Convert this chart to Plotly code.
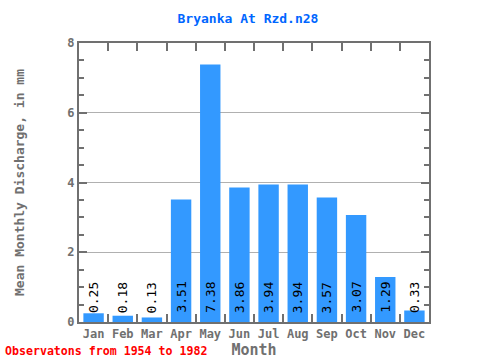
import plotly.graph_objects as go

months = ["Jan", "Feb", "Mar", "Apr", "May", "Jun", "Jul", "Aug", "Sep", "Oct", "Nov", "Dec"]
discharge = [0.25, 0.18, 0.13, 3.51, 7.38, 3.86, 3.94, 3.94, 3.57, 3.07, 1.29, 0.33]
labels = ["%.2f" % v for v in discharge]

MONO = "DejaVu Sans Mono"
GRAY = "#707070"

fig = go.Figure()
fig.add_trace(go.Bar(x=months, y=discharge, marker=dict(color="#3399ff", line=dict(width=0)),
                     hoverinfo="skip"))

for m, t in zip(months, labels):
    fig.add_annotation(x=m, y=0, text=t, textangle=-90, showarrow=False,
                       yanchor="bottom", xanchor="center", yshift=7,
                       font=dict(family=MONO, size=13, color="black"))

fig.add_annotation(x=0, y=0, xref="paper", yref="paper", xanchor="left", yanchor="bottom",
                   text="<b>Observatons from 1954 to 1982</b>", showarrow=False,
                   xshift=-76, yshift=-38, font=dict(family=MONO, size=11.6, color="#ff0000"))

fig.update_layout(
    width=480, height=360,
    margin=dict(l=79, r=51, t=43, b=38, autoexpand=False),
    plot_bgcolor="white", paper_bgcolor="white",
    showlegend=False, bargap=0.3,
    title=dict(text="<b>Bryanka At Rzd.n28</b>", x=248 / 480, xanchor="center", xref="container",
               y=1 - 18 / 360, yanchor="middle", yref="container",
               font=dict(family=MONO, size=13, color="#0066ff")),
    xaxis=dict(showline=True, linecolor=GRAY, linewidth=2, mirror="ticks", automargin=False,
               ticks="inside", tickson="boundaries", ticklen=8, tickcolor=GRAY, tickwidth=2,
               tickangle=0,
               tickfont=dict(family=MONO, size=12, color=GRAY, weight="bold"),
               title=dict(text="<b>Month</b>", font=dict(family=MONO, size=15, color=GRAY), standoff=4)),
    yaxis=dict(range=[0, 8], dtick=2, showline=True, linecolor=GRAY, linewidth=2, mirror="ticks",
               automargin=False,
               ticks="inside", ticklen=8, tickcolor=GRAY, tickwidth=2,
               showgrid=True, gridcolor="#b0b0b0", gridwidth=1, zeroline=False,
               minor=dict(dtick=0.5, ticks="inside", ticklen=5, tickcolor=GRAY, tickwidth=2, showgrid=False),
               tickfont=dict(family=MONO, size=12, color=GRAY, weight="bold"),
               title=dict(text="<b>Mean Monthly Discharge, in mm</b>",
                          font=dict(family=MONO, size=13, color=GRAY), standoff=40)),
)

fig.write_html("out.html", config={"displayModeBar": False},
               post_script="document.body.style.margin='0';document.body.style.padding='0';")
